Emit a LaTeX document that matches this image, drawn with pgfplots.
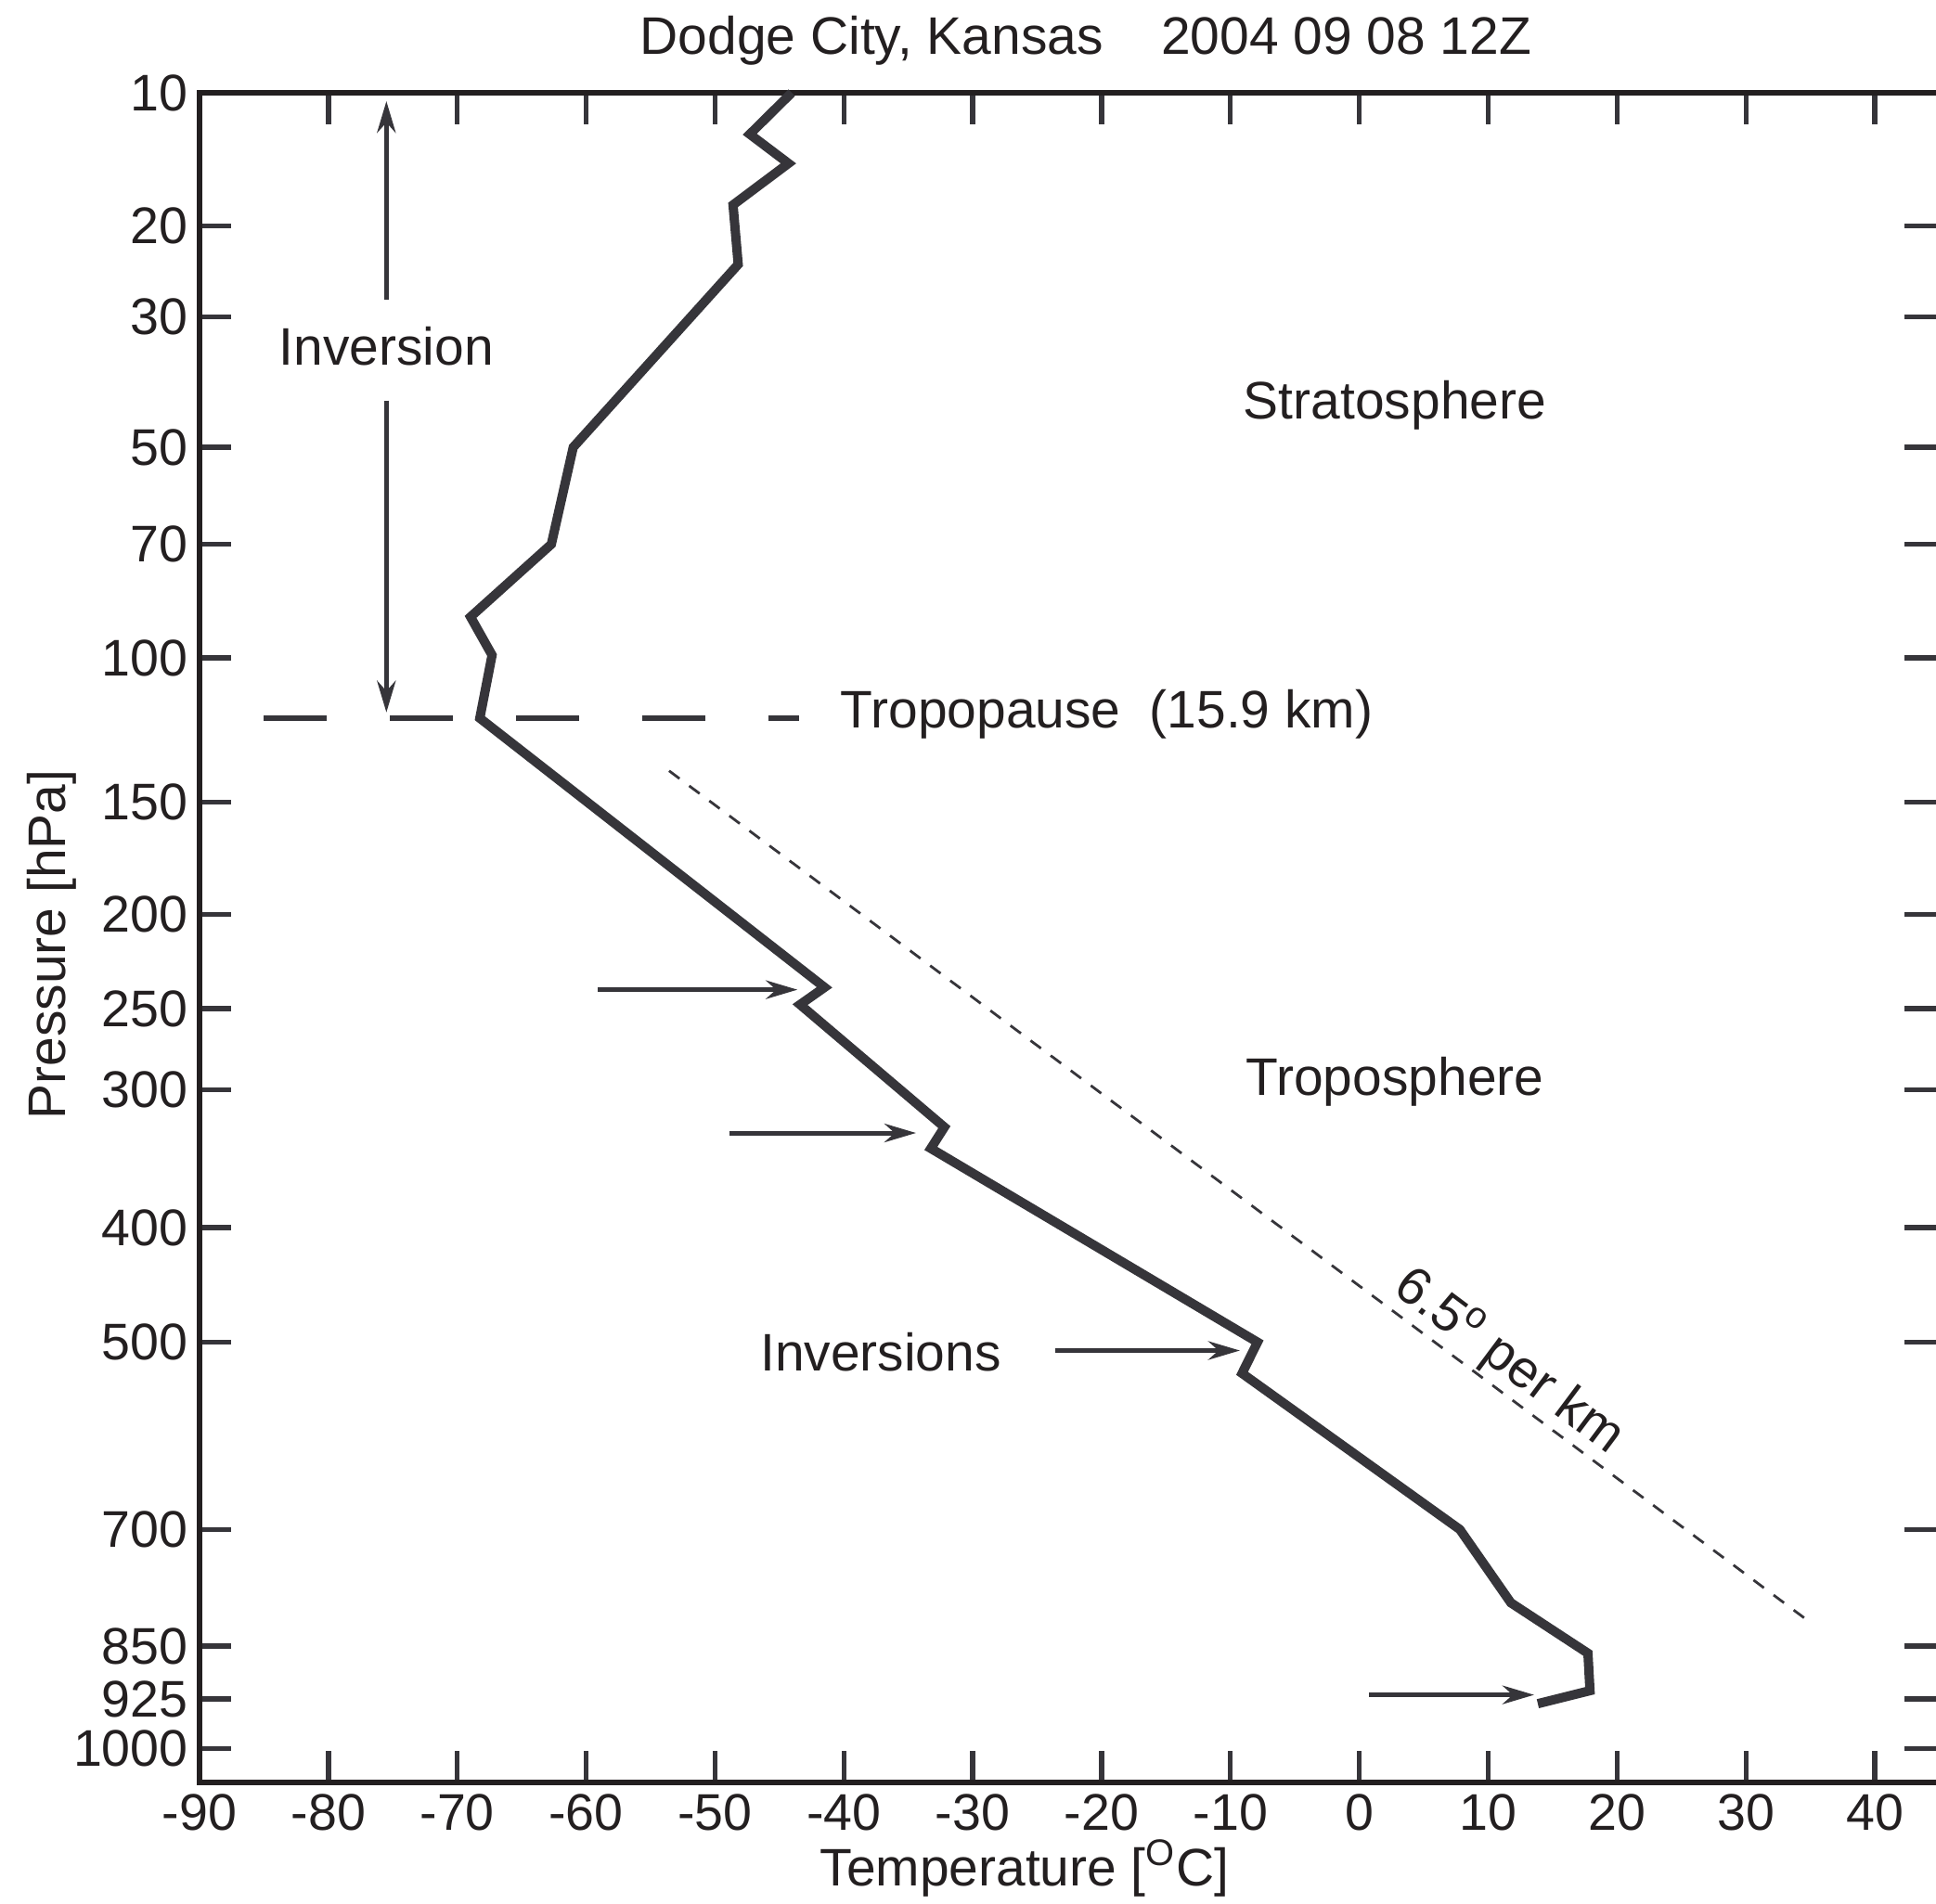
\documentclass[border=0pt]{standalone}
\usepackage{pgfplots}
\pgfplotsset{compat=1.18}
\usepackage{fontspec}
\setmainfont{Liberation Sans}
\usetikzlibrary{arrows.meta}
\definecolor{curve}{RGB}{54,53,58}
\definecolor{axc}{RGB}{35,31,32}
\newcommand\fs{\fontsize{15.8pt}{19pt}\selectfont}
\newcommand\fa{\fontsize{16.2pt}{19pt}\selectfont}
\begin{document}
\begin{tikzpicture}
\begin{axis}[
  scale only axis,
  width=187.1mm, height=182.1mm,
  xmin=-90, xmax=44.75,
  ymin=10, ymax=1053,
  y dir=reverse,
  y coord trafo/.code={\pgfmathparse{exp(0.2857*ln(#1))}},
  enlargelimits=false,
  clip=false,
  axis line style={draw=none},
  xtick={-90,-80,-70,-60,-50,-40,-30,-20,-10,0,10,20,30,40},
  xticklabels={-90,-80,-70,-60,-50,-40,-30,-20,-10,0,10,20,30,40},
  ytick={10,20,30,50,70,100,150,200,250,300,400,500,700,850,925,1000},
  yticklabels={10,20,30,50,70,100,150,200,250,300,400,500,700,850,925,1000},
  xtick pos=both, ytick pos=both,
  xticklabel pos=lower, yticklabel pos=left,
  tick align=inside,
  major tick length=3.4mm,
  tick style={line width=0.53mm, color=curve},
  tick label style={font=\fs, text=axc},
]
\draw[axc, line width=0.57mm, line join=miter] (rel axis cs:1,1) -- (rel axis cs:0,1) -- (rel axis cs:0,0) -- (rel axis cs:1,0);

\addplot[curve, line width=1.0mm, line join=miter, mark=none] coordinates {
(-44.05,10) (-47.3,12.6) (-44.3,14.7) (-48.6,18.1) (-48.2,23.9)
(-61.0,50) (-62.7,70) (-68.97,88.3) (-67.3,99.2) (-68.25,119.2)
(-41.5,238) (-43.4,247.7) (-32.2,325) (-33.25,340)
(-7.9,500) (-9.1,530) (7.8,700) (11.76,792) (17.74,860) (17.9,913) (13.85,932)
};

% inversion arrows
\draw[curve, line width=0.5mm, -{Stealth[length=3.4mm,width=2.0mm,inset=1.1mm]}] (axis cs:-59.1,239.3) -- (axis cs:-43.6,239.3);
\draw[curve, line width=0.5mm, -{Stealth[length=3.4mm,width=2.0mm,inset=1.1mm]}] (axis cs:-48.9,329) -- (axis cs:-34.4,329);
\draw[curve, line width=0.5mm, -{Stealth[length=3.4mm,width=2.0mm,inset=1.1mm]}] (axis cs:-23.6,508) -- (axis cs:-9.27,508);
\draw[curve, line width=0.5mm, -{Stealth[length=3.4mm,width=2.0mm,inset=1.1mm]}] (axis cs:0.75,919) -- (axis cs:13.56,919);
% vertical arrows
\draw[curve, line width=0.55mm, -{Stealth[length=3.4mm,width=2.0mm,inset=1.1mm]}] (axis cs:-75.5,27.9) -- (axis cs:-75.5,10.49);
\draw[curve, line width=0.55mm, -{Stealth[length=3.4mm,width=2.0mm,inset=1.1mm]}] (axis cs:-75.5,42.0) -- (axis cs:-75.5,117.3);

% tropopause
\draw[curve, line width=0.65mm, dash pattern=on 6.8mm off 6.8mm] (axis cs:-85.03,119.2) -- (axis cs:-43.47,119.2);
% lapse rate
\draw[curve, line width=0.28mm, dash pattern=on 1.4mm off 1.3mm] (axis cs:-53.56,138) -- (axis cs:35.24,821);

\node[font=\fa, text=axc, anchor=base] at (axis cs:-75.5,36.6) {Inversion};
\node[font=\fa, text=axc, anchor=base] at (axis cs:2.76,45.0) {Stratosphere};
\node[font=\fa, text=axc, anchor=base] at (axis cs:2.76,303.6) {Troposphere};
\node[font=\fa, text=axc, anchor=base] at (axis cs:-37.14,528) {Inversions};
\node[font=\fa, text=axc, anchor=base west, inner sep=0pt] at (axis cs:-40.3,122.6) {Tropopause\hspace{0.55em}(15.9 km)};
\node[font=\fa, text=axc, rotate=-36.75] at (axis cs:11.62,518.6) {6.5\textsuperscript{o} per km};
\end{axis}
\node[font=\fa, text=axc, anchor=base] at (95.5mm,186.2mm) {Dodge City, Kansas\hspace{1.1em}2004 09 08 12Z};
\node[font=\fa, text=axc, anchor=base] at (88.9mm,-11.2mm) {Temperature [\textsuperscript{O}C]};
\node[font=\fa, text=axc, rotate=90] at (-15.9mm,90.3mm) {Pressure [hPa]};
\pgfresetboundingbox
\path (-21.5mm,-13.1mm) rectangle (187.1mm,192.1mm);
\end{tikzpicture}
\end{document}
